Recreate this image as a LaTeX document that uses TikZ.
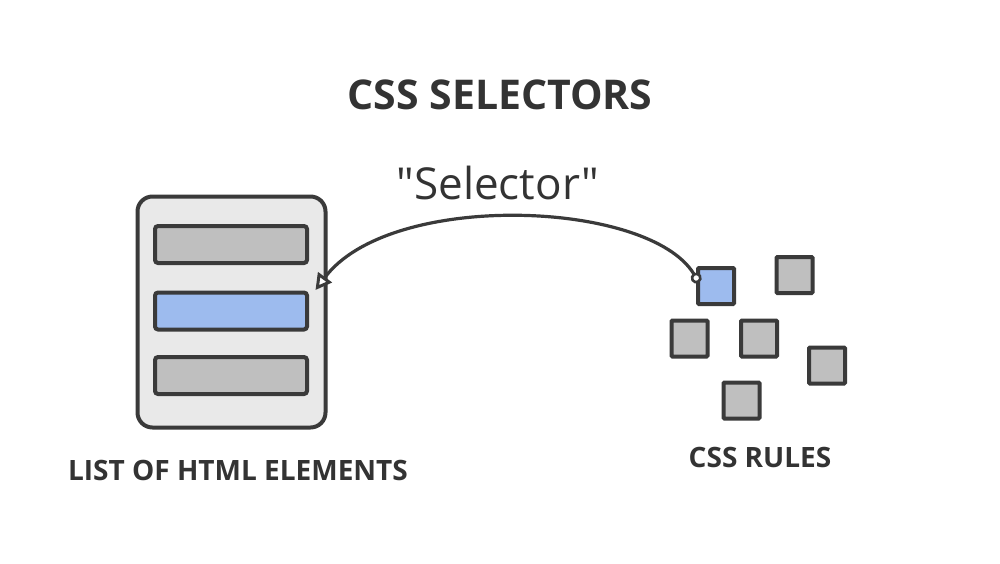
\documentclass[tikz,border=0pt]{standalone}
\usepackage{fontspec}
\setmainfont{Open Sans}
\newfontfamily\plainfont{Open Sans}
\usetikzlibrary{arrows.meta}
\definecolor{ink}{HTML}{3A3A3A}
\definecolor{txt}{HTML}{333333}
\definecolor{panel}{HTML}{E9E9E9}
\definecolor{grayfill}{HTML}{BFBFBF}
\definecolor{bluefill}{HTML}{9DBBEE}
\begin{document}
\begin{tikzpicture}[x=0.5pt,y=-0.5pt,
  panelbox/.style={draw=ink,line width=2pt,fill=panel,rounded corners=7.5pt,minimum width=94pt,minimum height=115.5pt,inner sep=0pt},
  bar/.style={draw=ink,line width=2pt,rounded corners=1.5pt,minimum width=76pt,minimum height=18.5pt,inner sep=0pt},
  sq/.style={draw=ink,line width=2pt,minimum width=18pt,minimum height=18pt,inner sep=0pt,rounded corners=0.5pt},
  lbl/.style={text=txt,font=\bfseries\fontsize{14}{16}\selectfont,inner sep=0pt},
  conn/.style={draw=ink,line width=1.6pt,{Circle[open,fill=white,length=5.5pt,width=5.5pt,line width=1.3pt]}-{Triangle[open,fill=white,length=8pt,width=8.5pt,line width=1.5pt]}}
]
\useasboundingbox[fill=white] (0,0) rectangle (1000,563);
\node[text=txt,font=\bfseries\fontsize{20.5}{25}\selectfont,inner sep=0pt] (title) at (500,95) {CSS SELECTORS};
\node[panelbox] (list) at (231.5,312) {};
\node[bar,fill=grayfill] (b1) at (231,244.5) {};
\node[bar,fill=bluefill] (b2) at (231,311) {};
\node[bar,fill=grayfill] (b3) at (231,375.5) {};
\node[lbl] (ll) at (238,470) {LIST OF HTML ELEMENTS};
\node[sq,fill=bluefill] (sel) at (716,286) {};
\node[sq,fill=grayfill] (s1) at (794.5,275) {};
\node[sq,fill=grayfill] (s2) at (689.5,338.5) {};
\node[sq,fill=grayfill] (s3) at (759,338.5) {};
\node[sq,fill=grayfill] (s4) at (827,365.5) {};
\node[sq,fill=grayfill] (s5) at (741.5,400.5) {};
\node[lbl] (rl) at (760,457) {CSS RULES};
\node[text=txt,font=\plainfont\fontsize{22}{26}\selectfont,inner sep=0pt] (sl) at (498,183) {"Selector"};
\coordinate (tip) at ([xshift=-6pt,yshift=11pt]list.east);
\draw[conn] ([xshift=1.5pt,yshift=-2pt]sel.160) .. controls (650,200) and (390,190) .. (tip);
\end{tikzpicture}
\end{document}
